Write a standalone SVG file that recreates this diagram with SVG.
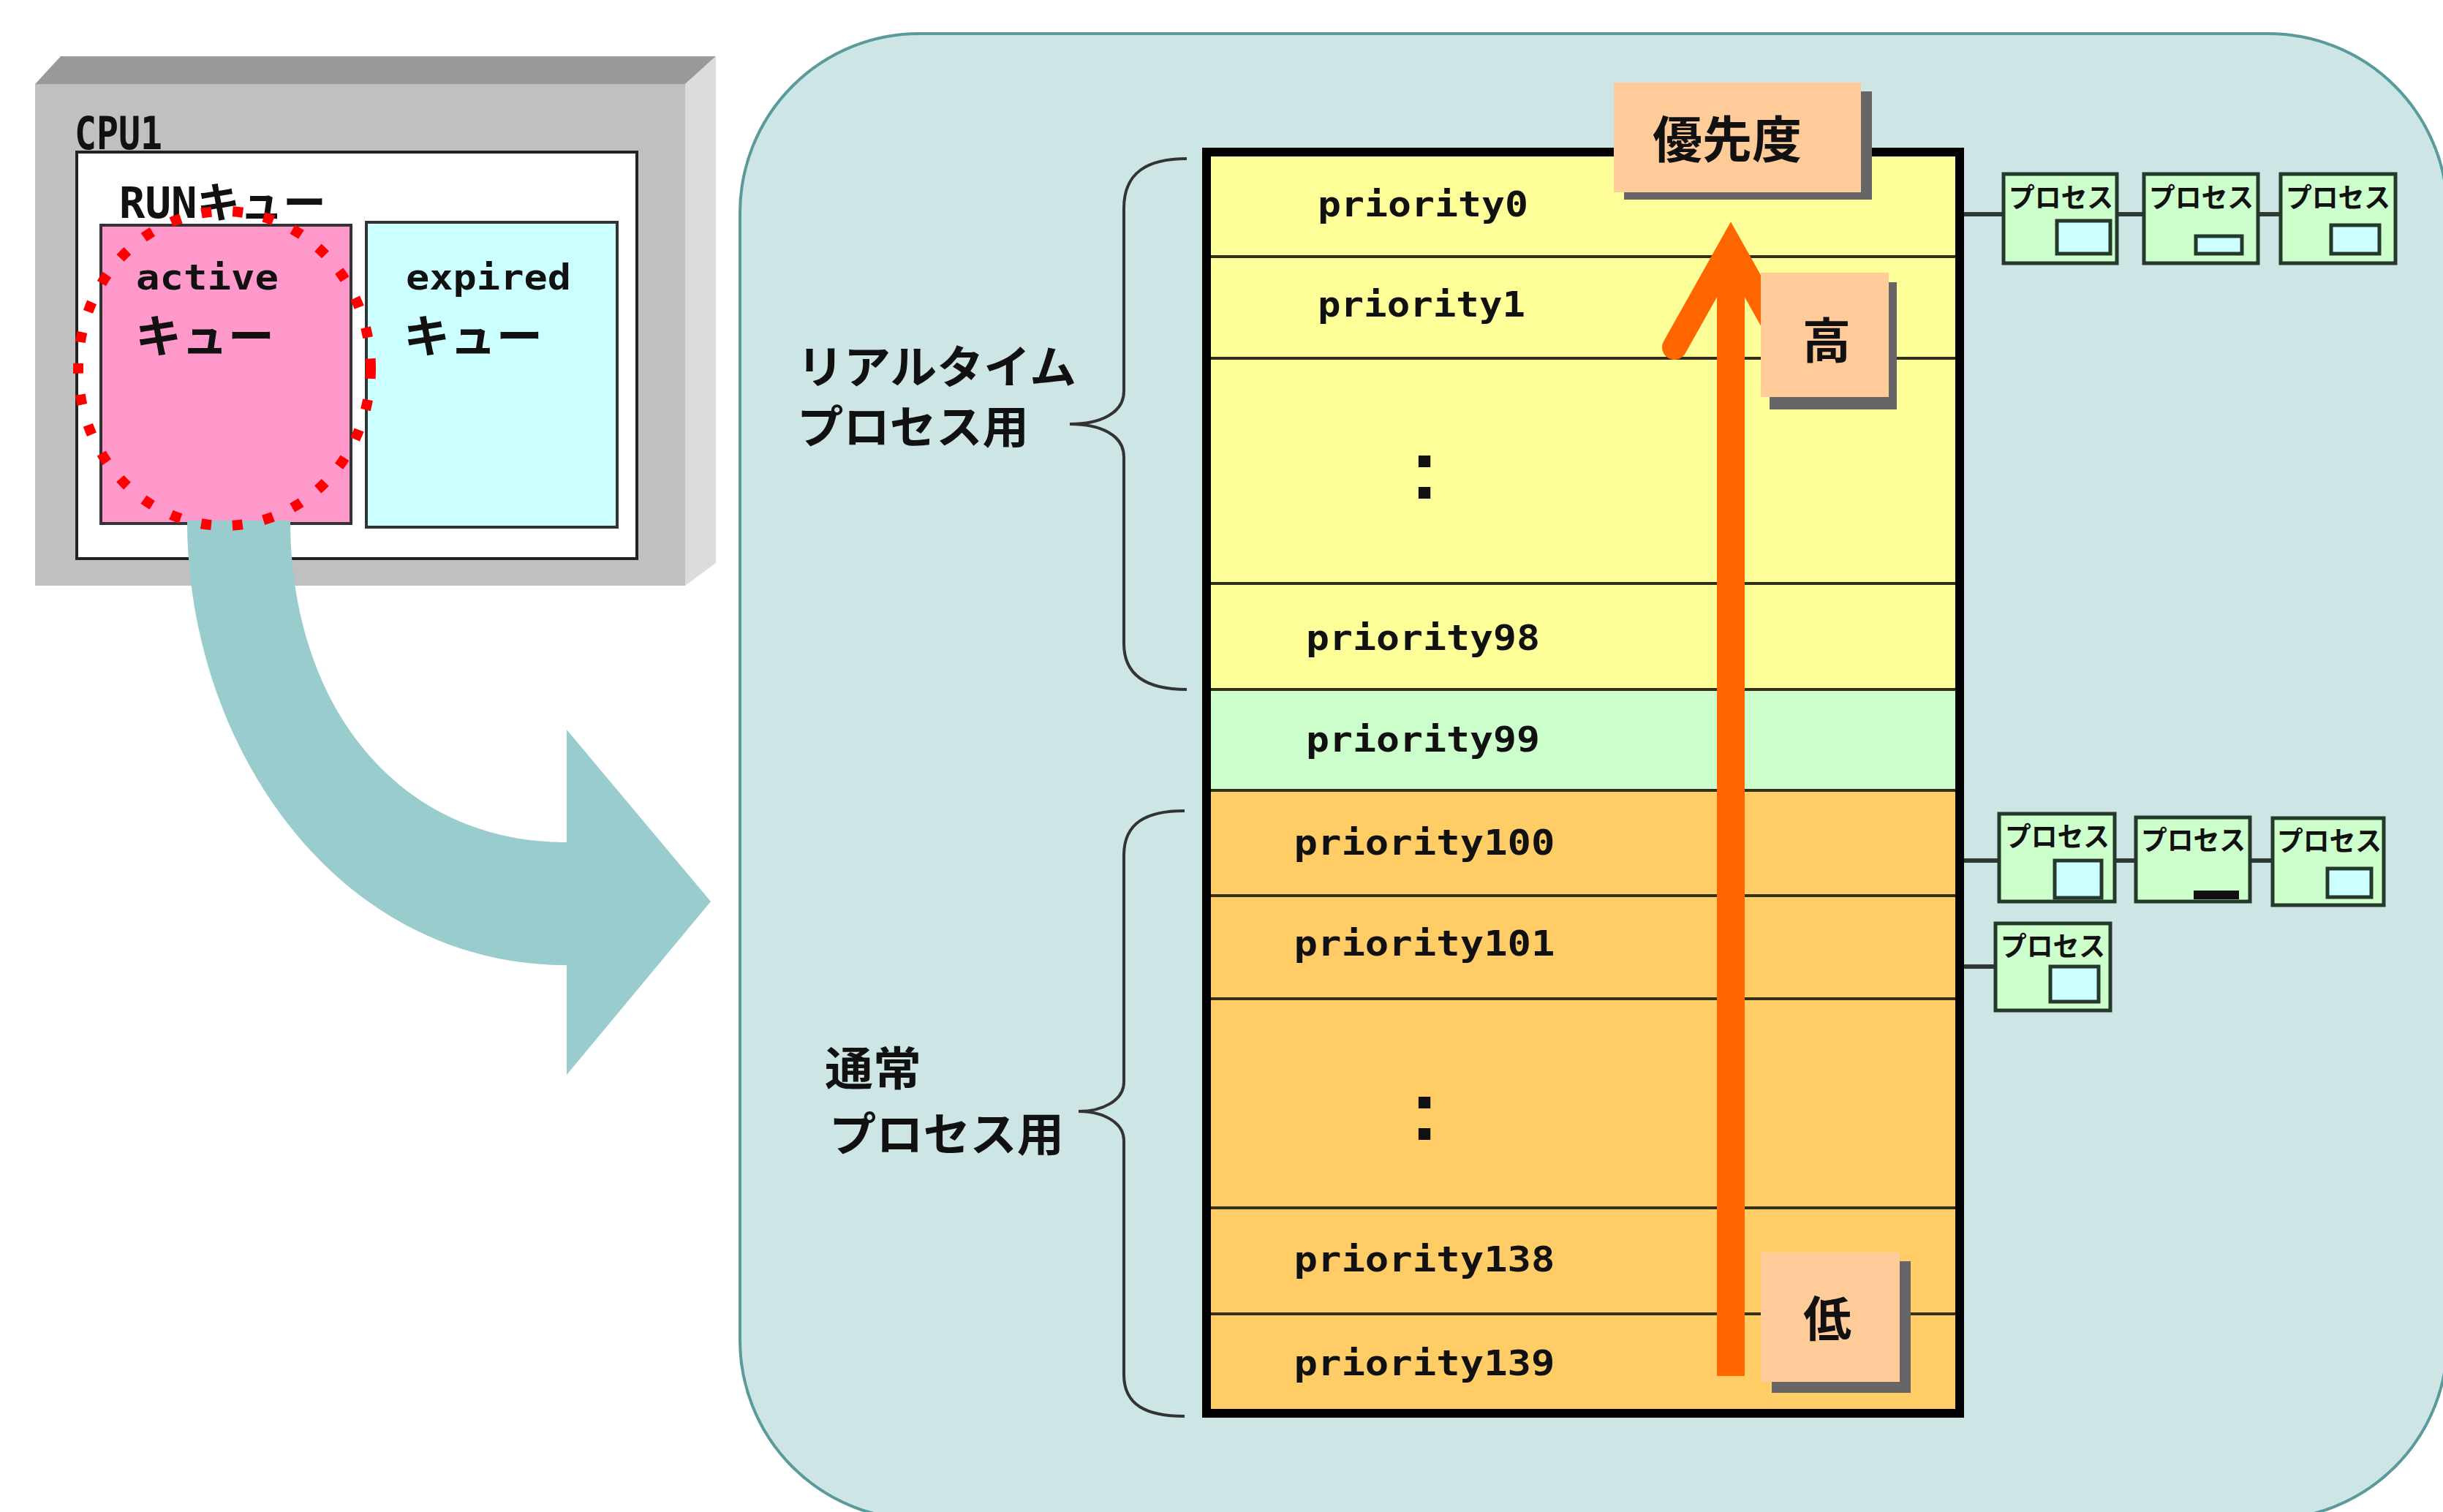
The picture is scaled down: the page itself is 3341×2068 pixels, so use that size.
<svg xmlns="http://www.w3.org/2000/svg" width="3341" height="2068" viewBox="0 0 3341 2068">
<style>
.mono{font-family:"DejaVu Sans Mono","Liberation Mono",monospace;font-weight:bold;fill:#111}
.jp{font-family:"Noto Sans CJK JP","Noto Sans CJK SC",sans-serif;font-weight:bold;fill:#111}
.monojp{font-family:"DejaVu Sans Mono","Noto Sans CJK JP",monospace;font-weight:bold;fill:#111}
.rowline{stroke:#33301a;stroke-width:4}
.box{fill:#ccffcc;stroke:#25392b;stroke-width:5}
.slot{fill:#ccffff;stroke:#25392b;stroke-width:5}
.conn{stroke:#2f3a32;stroke-width:6}
.tag{fill:#ffcc99}
.shadow{fill:#666}
.brace{fill:none;stroke:#333;stroke-width:4}
.ptxt{font-size:37px}
.prio{font-size:48px}
</style>
<rect width="3341" height="2068" fill="#ffffff"/>

<!-- big rounded panel -->
<g id="panel">
<rect x="1012" y="46" width="2335" height="2032" rx="245" ry="245" fill="#cde5e5" stroke="#5a9a9a" stroke-width="4"/>
</g>

<!-- CPU box -->
<g id="cpu1">
<polygon points="48,115 83,77 979,77 937,115" fill="#999999"/>
<polygon points="937,115 979,77 979,770 937,801" fill="#dcdcdc"/>
<rect x="48" y="115" width="889" height="686" fill="#c0c0c0"/>
<text class="mono" x="102" y="204" font-size="62" textLength="120" lengthAdjust="spacingAndGlyphs">CPU1</text>
<rect x="105" y="208" width="766" height="556" fill="#ffffff" stroke="#222" stroke-width="4"/>
<text class="monojp" x="163" y="298" font-size="58" textLength="283" lengthAdjust="spacingAndGlyphs">RUNキュー</text>
</g>
<g id="active-queue">
<rect x="138" y="308" width="342" height="408" fill="#ff99cc" stroke="#333" stroke-width="4"/>
<text class="mono" x="186" y="396" font-size="48" textLength="195" lengthAdjust="spacingAndGlyphs">active</text>
<text class="jp" x="185" y="483" font-size="62" textLength="190" lengthAdjust="spacingAndGlyphs">キュー</text>
</g>
<g id="expired-queue">
<rect x="501" y="304" width="343" height="417" fill="#ccffff" stroke="#333" stroke-width="4"/>
<text class="mono" x="555" y="396" font-size="48" textLength="226" lengthAdjust="spacingAndGlyphs">expired</text>
<text class="jp" x="552" y="483" font-size="62" textLength="190" lengthAdjust="spacingAndGlyphs">キュー</text>
</g>

<!-- connectors -->
<g id="connectors">
<path d="M 256,712 C 256,1020 460,1320 775,1320 L 775,1470 L 972,1233 L 775,998 L 775,1152 C 540,1152 397,960 397,712 Z" fill="#99cccc"/>
<line class="conn" x1="2686" y1="293" x2="2740" y2="293"/>
<line class="conn" x1="2895" y1="293" x2="2932" y2="293"/>
<line class="conn" x1="3088" y1="293" x2="3119" y2="293"/>
<line class="conn" x1="2686" y1="1177" x2="2734" y2="1177"/>
<line class="conn" x1="2892" y1="1177" x2="2921" y2="1177"/>
<line class="conn" x1="3077" y1="1177" x2="3108" y2="1177"/>
<line class="conn" x1="2686" y1="1322" x2="2729" y2="1322"/>
</g>

<g id="active-highlight">
<ellipse cx="307" cy="504" rx="200" ry="215" fill="none" stroke="#ff0000" stroke-width="14" stroke-dasharray="14 29"/>
</g>

<!-- braces and labels -->
<g id="realtime-group">
<path class="brace" d="M 1623,217 C 1570,217 1537,235 1537,285 L 1537,535 C 1537,565 1505,580 1463,580 C 1505,580 1537,595 1537,625 L 1537,880 C 1537,925 1570,943 1623,943"/>
<text class="jp" x="1090" y="525" font-size="62" textLength="382" lengthAdjust="spacingAndGlyphs">リアルタイム</text>
<text class="jp" x="1090" y="607" font-size="62" textLength="317" lengthAdjust="spacingAndGlyphs">プロセス用</text>
</g>
<g id="normal-group">
<path class="brace" d="M 1620,1109 C 1568,1109 1537,1125 1537,1170 L 1537,1480 C 1537,1505 1508,1520 1475,1520 C 1508,1520 1537,1535 1537,1560 L 1537,1880 C 1537,1922 1568,1937 1620,1937"/>
<text class="jp" x="1128" y="1484" font-size="63" textLength="132" lengthAdjust="spacingAndGlyphs">通常</text>
<text class="jp" x="1134" y="1574" font-size="63" textLength="321" lengthAdjust="spacingAndGlyphs">プロセス用</text>
</g>

<!-- priority table -->
<g id="priority-table">
<rect x="1650" y="208" width="1030" height="735" fill="#ffff99"/>
<rect x="1650" y="943" width="1030" height="138" fill="#ccffcc"/>
<rect x="1650" y="1081" width="1030" height="852" fill="#ffcc66"/>
<line class="rowline" x1="1650" y1="351" x2="2680" y2="351"/>
<line class="rowline" x1="1650" y1="490" x2="2680" y2="490"/>
<line class="rowline" x1="1650" y1="798" x2="2680" y2="798"/>
<line class="rowline" x1="1650" y1="943" x2="2680" y2="943"/>
<line class="rowline" x1="1650" y1="1081" x2="2680" y2="1081"/>
<line class="rowline" x1="1650" y1="1225" x2="2680" y2="1225"/>
<line class="rowline" x1="1650" y1="1366" x2="2680" y2="1366"/>
<line class="rowline" x1="1650" y1="1652" x2="2680" y2="1652"/>
<line class="rowline" x1="1650" y1="1797" x2="2680" y2="1797"/>
<rect x="1650" y="208" width="1030" height="1725" fill="none" stroke="#000" stroke-width="12"/>
<g class="mono prio" text-anchor="middle">
<text x="1946" y="296" textLength="288" lengthAdjust="spacingAndGlyphs">priority0</text>
<text x="1944" y="433" textLength="284" lengthAdjust="spacingAndGlyphs">priority1</text>
<text x="1946" y="889" textLength="320" lengthAdjust="spacingAndGlyphs">priority98</text>
<text x="1946" y="1028" textLength="320" lengthAdjust="spacingAndGlyphs">priority99</text>
<text x="1948" y="1169" textLength="357" lengthAdjust="spacingAndGlyphs">priority100</text>
<text x="1948" y="1307" textLength="357" lengthAdjust="spacingAndGlyphs">priority101</text>
<text x="1948" y="1739" textLength="357" lengthAdjust="spacingAndGlyphs">priority138</text>
<text x="1948" y="1881" textLength="357" lengthAdjust="spacingAndGlyphs">priority139</text>
</g>
<text x="1948" y="682" font-family="Liberation Sans, Arial, sans-serif" font-weight="bold" font-size="116" text-anchor="middle" fill="#111">:</text>
<text x="1948" y="1559" font-family="Liberation Sans, Arial, sans-serif" font-weight="bold" font-size="116" text-anchor="middle" fill="#111">:</text>
</g>

<!-- priority arrow -->
<g id="priority-arrow">
<line x1="2367" y1="1882" x2="2367" y2="345" stroke="#ff6600" stroke-width="38"/>
<polyline points="2290,475 2367,338 2444,475" fill="none" stroke="#ff6600" stroke-width="34" stroke-linejoin="miter" stroke-linecap="round"/>
</g>

<!-- tags -->
<g id="tag-priority">
<rect class="shadow" x="2221" y="125" width="339" height="148"/>
<rect class="tag" x="2207" y="113" width="338" height="150"/>
<text class="jp" x="2362" y="216" font-size="68" text-anchor="middle">優先度</text>
</g>
<g id="tag-high">
<rect class="shadow" x="2420" y="386" width="174" height="174"/>
<rect class="tag" x="2408" y="373" width="175" height="170"/>
<text class="jp" x="2498" y="490" font-size="66" text-anchor="middle">高</text>
</g>
<g id="tag-low">
<rect class="shadow" x="2423" y="1725" width="190" height="180"/>
<rect class="tag" x="2408" y="1713" width="190" height="177"/>
<text class="jp" x="2499" y="1828" font-size="66" text-anchor="middle">低</text>
</g>

<!-- process boxes -->
<g id="proc-0-1">
<rect class="box" x="2740" y="238" width="155" height="122"/>
<rect class="slot" x="2813" y="302" width="73" height="45"/>
<text class="jp ptxt" x="2747" y="284" textLength="143" lengthAdjust="spacingAndGlyphs">プロセス</text>
</g>
<g id="proc-0-2">
<rect class="box" x="2932" y="238" width="156" height="122"/>
<rect class="slot" x="3003" y="323" width="63" height="24"/>
<text class="jp ptxt" x="2939" y="284" textLength="143" lengthAdjust="spacingAndGlyphs">プロセス</text>
</g>
<g id="proc-0-3">
<rect class="box" x="3119" y="238" width="157" height="122"/>
<rect class="slot" x="3188" y="308" width="66" height="39"/>
<text class="jp ptxt" x="3126" y="284" textLength="143" lengthAdjust="spacingAndGlyphs">プロセス</text>
</g>
<g id="proc-100-1">
<rect class="box" x="2734" y="1113" width="158" height="120"/>
<rect class="slot" x="2810" y="1177" width="64" height="51"/>
<text class="jp ptxt" x="2742" y="1158" textLength="143" lengthAdjust="spacingAndGlyphs">プロセス</text>
</g>
<g id="proc-100-2">
<rect class="box" x="2921" y="1118" width="156" height="115"/>
<rect x="3000" y="1218" width="62" height="12" fill="#111"/>
<text class="jp ptxt" x="2928" y="1163" textLength="143" lengthAdjust="spacingAndGlyphs">プロセス</text>
</g>
<g id="proc-100-3">
<rect class="box" x="3108" y="1119" width="152" height="119"/>
<rect class="slot" x="3183" y="1188" width="60" height="39"/>
<text class="jp ptxt" x="3114" y="1164" textLength="143" lengthAdjust="spacingAndGlyphs">プロセス</text>
</g>
<g id="proc-101-1">
<rect class="box" x="2729" y="1263" width="157" height="119"/>
<rect class="slot" x="2804" y="1322" width="66" height="48"/>
<text class="jp ptxt" x="2736" y="1308" textLength="143" lengthAdjust="spacingAndGlyphs">プロセス</text>
</g>
</svg>
